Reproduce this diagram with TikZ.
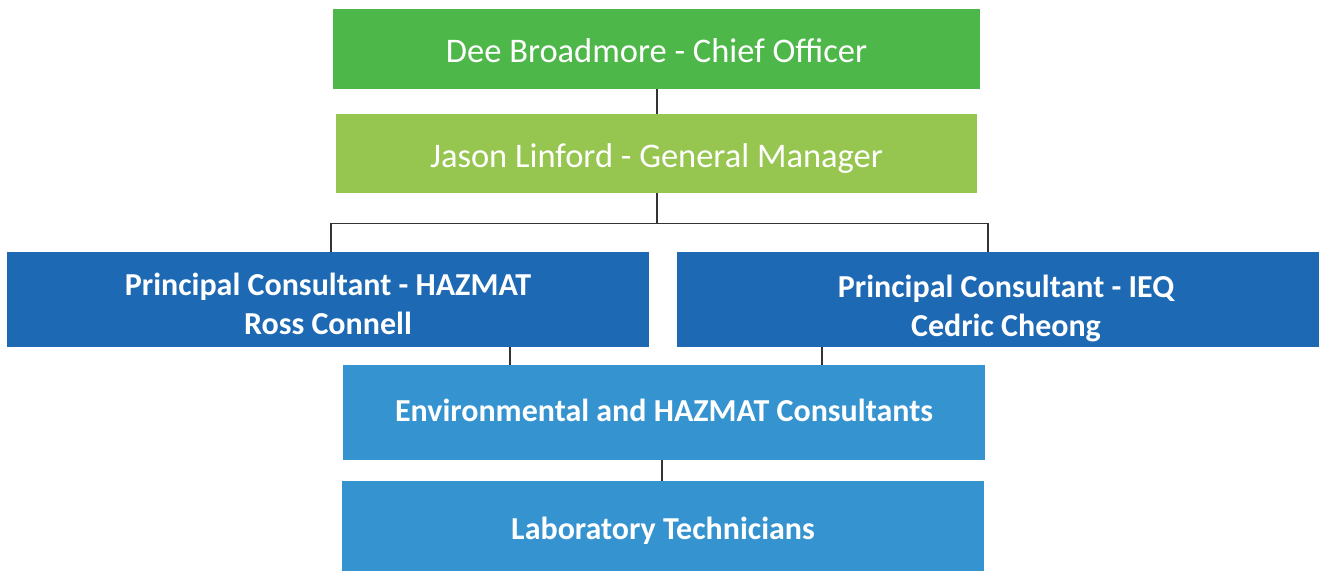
\documentclass[tikz,border=0pt]{standalone}
\usepackage{fontspec}
\setmainfont{Carlito}
\definecolor{cgreen}{HTML}{4EB749}
\definecolor{clgreen}{HTML}{97C650}
\definecolor{cdblue}{HTML}{1D69B3}
\definecolor{cmblue}{HTML}{3593D0}
\definecolor{cline}{HTML}{333333}
\newcommand{\lowertext}[2]{\raisebox{-#1}[\height][\depth]{#2}}
\begin{document}
\begin{tikzpicture}[x=1pt,y=-1pt,
  box/.style={rectangle,inner sep=0pt,text=white,align=center,font=\fontsize{34.5}{40}\selectfont},
  bbox/.style={box,font=\bfseries\fontsize{32}{38}\selectfont},
  conn/.style={draw=cline,line width=1.3pt}]
\useasboundingbox (0,0) rectangle (1324,572);
\node[box,fill=cgreen,minimum width=647pt,minimum height=80pt] (b1) at (656.5,49) {\lowertext{2pt}{Dee Broadmore - Chief Officer}};
\node[box,fill=clgreen,minimum width=641pt,minimum height=79pt] (b2) at (656.5,153.5) {\lowertext{5pt}{Jason Linford - General Manager}};
\node[bbox,fill=cdblue,minimum width=642pt,minimum height=95pt] (b3) at (328,299.5) {\lowertext{8pt}{\begin{tabular}{@{}c@{}}Principal Consultant - HAZMAT\\[1pt]Ross Connell\end{tabular}}};
\node[bbox,fill=cdblue,minimum width=642pt,minimum height=95pt] (b4) at (998,299.5) {\hspace*{16pt}\lowertext{10pt}{\begin{tabular}{@{}c@{}}Principal Consultant - IEQ\\[1pt]Cedric Cheong\end{tabular}}};
\node[bbox,fill=cmblue,minimum width=642pt,minimum height=95pt] (b5) at (664,412.5) {\lowertext{-2pt}{Environmental and HAZMAT Consultants}};
\node[bbox,fill=cmblue,minimum width=642pt,minimum height=90pt] (b6) at (663,526) {\lowertext{5pt}{Laboratory Technicians}};
\coordinate (bus) at (657,223.5);
\draw[conn] (b1.south -| 657,0) -- (b2.north -| 657,0);
\draw[conn] (b2.south -| 657,0) -- (bus);
\draw[conn] (bus) -| (b3.north -| 331,0);
\draw[conn] (bus) -| (b4.north -| 988,0);
\draw[conn] (b3.south -| 510,0) -- (b5.north -| 510,0);
\draw[conn] (b4.south -| 822,0) -- (b5.north -| 822,0);
\draw[conn] (b5.south -| 662,0) -- (b6.north -| 662,0);
\end{tikzpicture}
\end{document}
